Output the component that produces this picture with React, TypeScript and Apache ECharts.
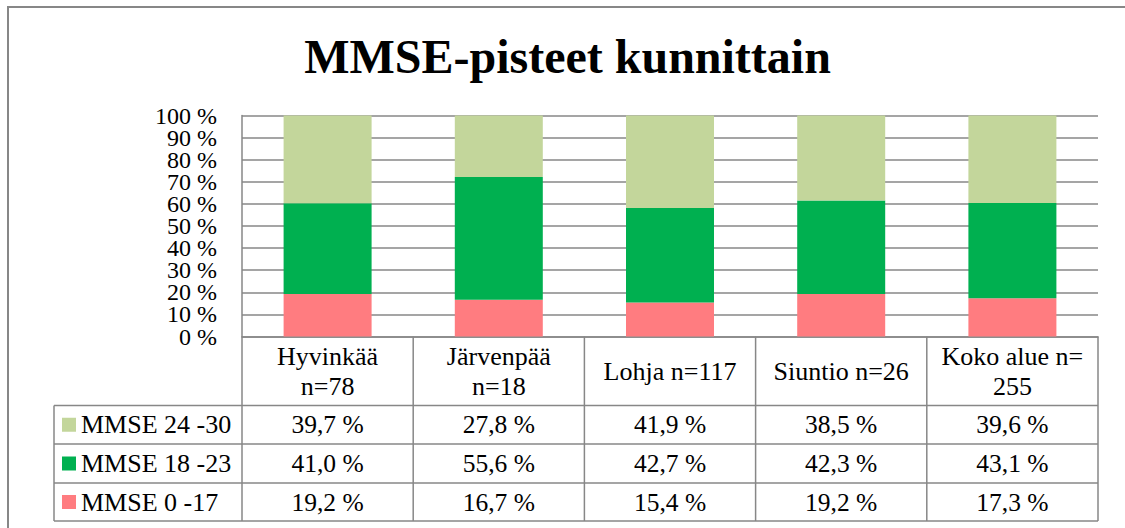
import React, { useEffect, useRef } from "react";
import * as echarts from "echarts";

const categories = ["Hyvinkää\nn=78", "Järvenpää\nn=18", "Lohja n=117", "Siuntio n=26", "Koko alue n=\n255"];
const seriesNames = ["MMSE 0 -17", "MMSE 18 -23", "MMSE 24 -30"];
const mmse0_17 = [19.2, 16.7, 15.4, 19.2, 17.3];
const mmse18_23 = [41.0, 55.6, 42.7, 42.3, 43.1];
const mmse24_30 = [39.7, 27.8, 41.9, 38.5, 39.6];
const yTicks = [0, 10, 20, 30, 40, 50, 60, 70, 80, 90, 100];
const colors = ["#FF7C80", "#00B050", "#C3D69B"];
const titleText = "MMSE-pisteet kunnittain";

const FONT = "Liberation Serif";
const GRAY = "#878787";

export default function App() {
  const ref = useRef<HTMLDivElement>(null);
  useEffect(() => {
    if (!ref.current) return;
    const chart = echarts.init(ref.current, undefined, { renderer: "svg" });
    const raw = [mmse0_17, mmse18_23, mmse24_30];
    const sums = categories.map((_, i) => raw.reduce((s, arr) => s + arr[i], 0));
    const norm = raw.map((arr) => arr.map((v, i) => (v / sums[i]) * 100));

    const gridLeft = 242;
    const gridTop = 115.5;
    const gridW = 856;
    const gridH = 221;
    const axisY = gridTop + gridH;

    chart.setOption({
      animation: false,
      grid: {
        left: gridLeft,
        top: gridTop,
        width: gridW,
        height: gridH,
        containLabel: false,
        outerBoundsMode: "none",
      },
      xAxis: {
        type: "category",
        data: categories,
        axisTick: { show: false },
        axisLine: { show: true, lineStyle: { color: GRAY, width: 1.5 } },
        axisLabel: {
          interval: 0,
          fontFamily: FONT,
          fontSize: 26,
          color: "#000",
          lineHeight: 30,
          verticalAlign: "middle",
          margin: 35,
          hideOverlap: false,
        },
      },
      yAxis: {
        type: "value",
        min: yTicks[0],
        max: yTicks[yTicks.length - 1],
        interval: 10,
        axisLine: { show: true, lineStyle: { color: GRAY, width: 1.5 } },
        axisTick: { show: false },
        splitLine: { show: true, lineStyle: { color: GRAY, width: 1.5 } },
        axisLabel: { show: false },
      },
      series: seriesNames.map((name, k) => ({
        name,
        type: "bar",
        stack: "total",
        barWidth: 88,
        itemStyle: { color: colors[k] },
        data: norm[k],
      })),
    });

    const rowNames = [seriesNames[2], seriesNames[1], seriesNames[0]];
    const rowVals = [mmse24_30, mmse18_23, mmse0_17];
    const rowColors = [colors[2], colors[1], colors[0]];
    const rowLines = [405.5, 444, 483, 521];
    const tableLeft = 54;
    const tableRight = gridLeft + gridW;
    const colW = gridW / categories.length;
    const g: any[] = [];

    g.push({
      type: "rect",
      shape: { x: 8, y: 7, width: 1140, height: 560 },
      style: { fill: "none", stroke: GRAY, lineWidth: 2 },
      silent: true,
    });
    g.push({
      type: "text",
      x: 567.5,
      y: 56,
      style: {
        text: titleText,
        fontFamily: FONT,
        fontSize: 48,
        fontWeight: "bold",
        fill: "#000",
        align: "center",
        verticalAlign: "middle",
      },
    });
    // y axis tick labels placed through the axis scale
    yTicks.forEach((t) => {
      const py = chart.convertToPixel({ yAxisIndex: 0 }, t) as number;
      g.push({
        type: "text",
        x: gridLeft - 25,
        y: py,
        style: {
          text: `${t} %`,
          fontFamily: FONT,
          fontSize: 24,
          fill: "#000",
          align: "right",
          verticalAlign: "middle",
        },
      });
    });
    rowLines.forEach((y) => {
      g.push({
        type: "line",
        shape: { x1: tableLeft, y1: y, x2: tableRight, y2: y },
        style: { stroke: GRAY, lineWidth: 1.5 },
      });
    });
    g.push({
      type: "line",
      shape: { x1: tableLeft, y1: rowLines[0], x2: tableLeft, y2: rowLines[3] },
      style: { stroke: GRAY, lineWidth: 1.5 },
    });
    for (let i = 0; i <= categories.length; i++) {
      const x = gridLeft + i * colW;
      g.push({
        type: "line",
        shape: { x1: x, y1: axisY, x2: x, y2: rowLines[3] },
        style: { stroke: GRAY, lineWidth: 1.5 },
      });
    }
    rowNames.forEach((name, r) => {
      const cy = (rowLines[r] + rowLines[r + 1]) / 2;
      g.push({
        type: "rect",
        shape: { x: 62, y: cy - 7, width: 14, height: 14 },
        style: { fill: rowColors[r] },
      });
      g.push({
        type: "text",
        x: 81,
        y: cy,
        style: {
          text: name,
          fontFamily: FONT,
          fontSize: 26,
          fill: "#000",
          align: "left",
          verticalAlign: "middle",
        },
      });
      rowVals[r].forEach((v, i) => {
        const cx = chart.convertToPixel({ xAxisIndex: 0 }, i) as number;
        g.push({
          type: "text",
          x: cx,
          y: cy,
          style: {
            text: `${v.toFixed(1).replace(".", ",")} %`,
            fontFamily: FONT,
            fontSize: 25.5,
            fill: "#000",
            align: "center",
            verticalAlign: "middle",
          },
        });
      });
    });
    chart.setOption({ graphic: g });

    return () => chart.dispose();
  }, []);
  return (
    <div
      ref={ref}
      style={{ position: "absolute", left: 0, top: 0, width: 1125, height: 528, background: "#fff" }}
    />
  );
}
